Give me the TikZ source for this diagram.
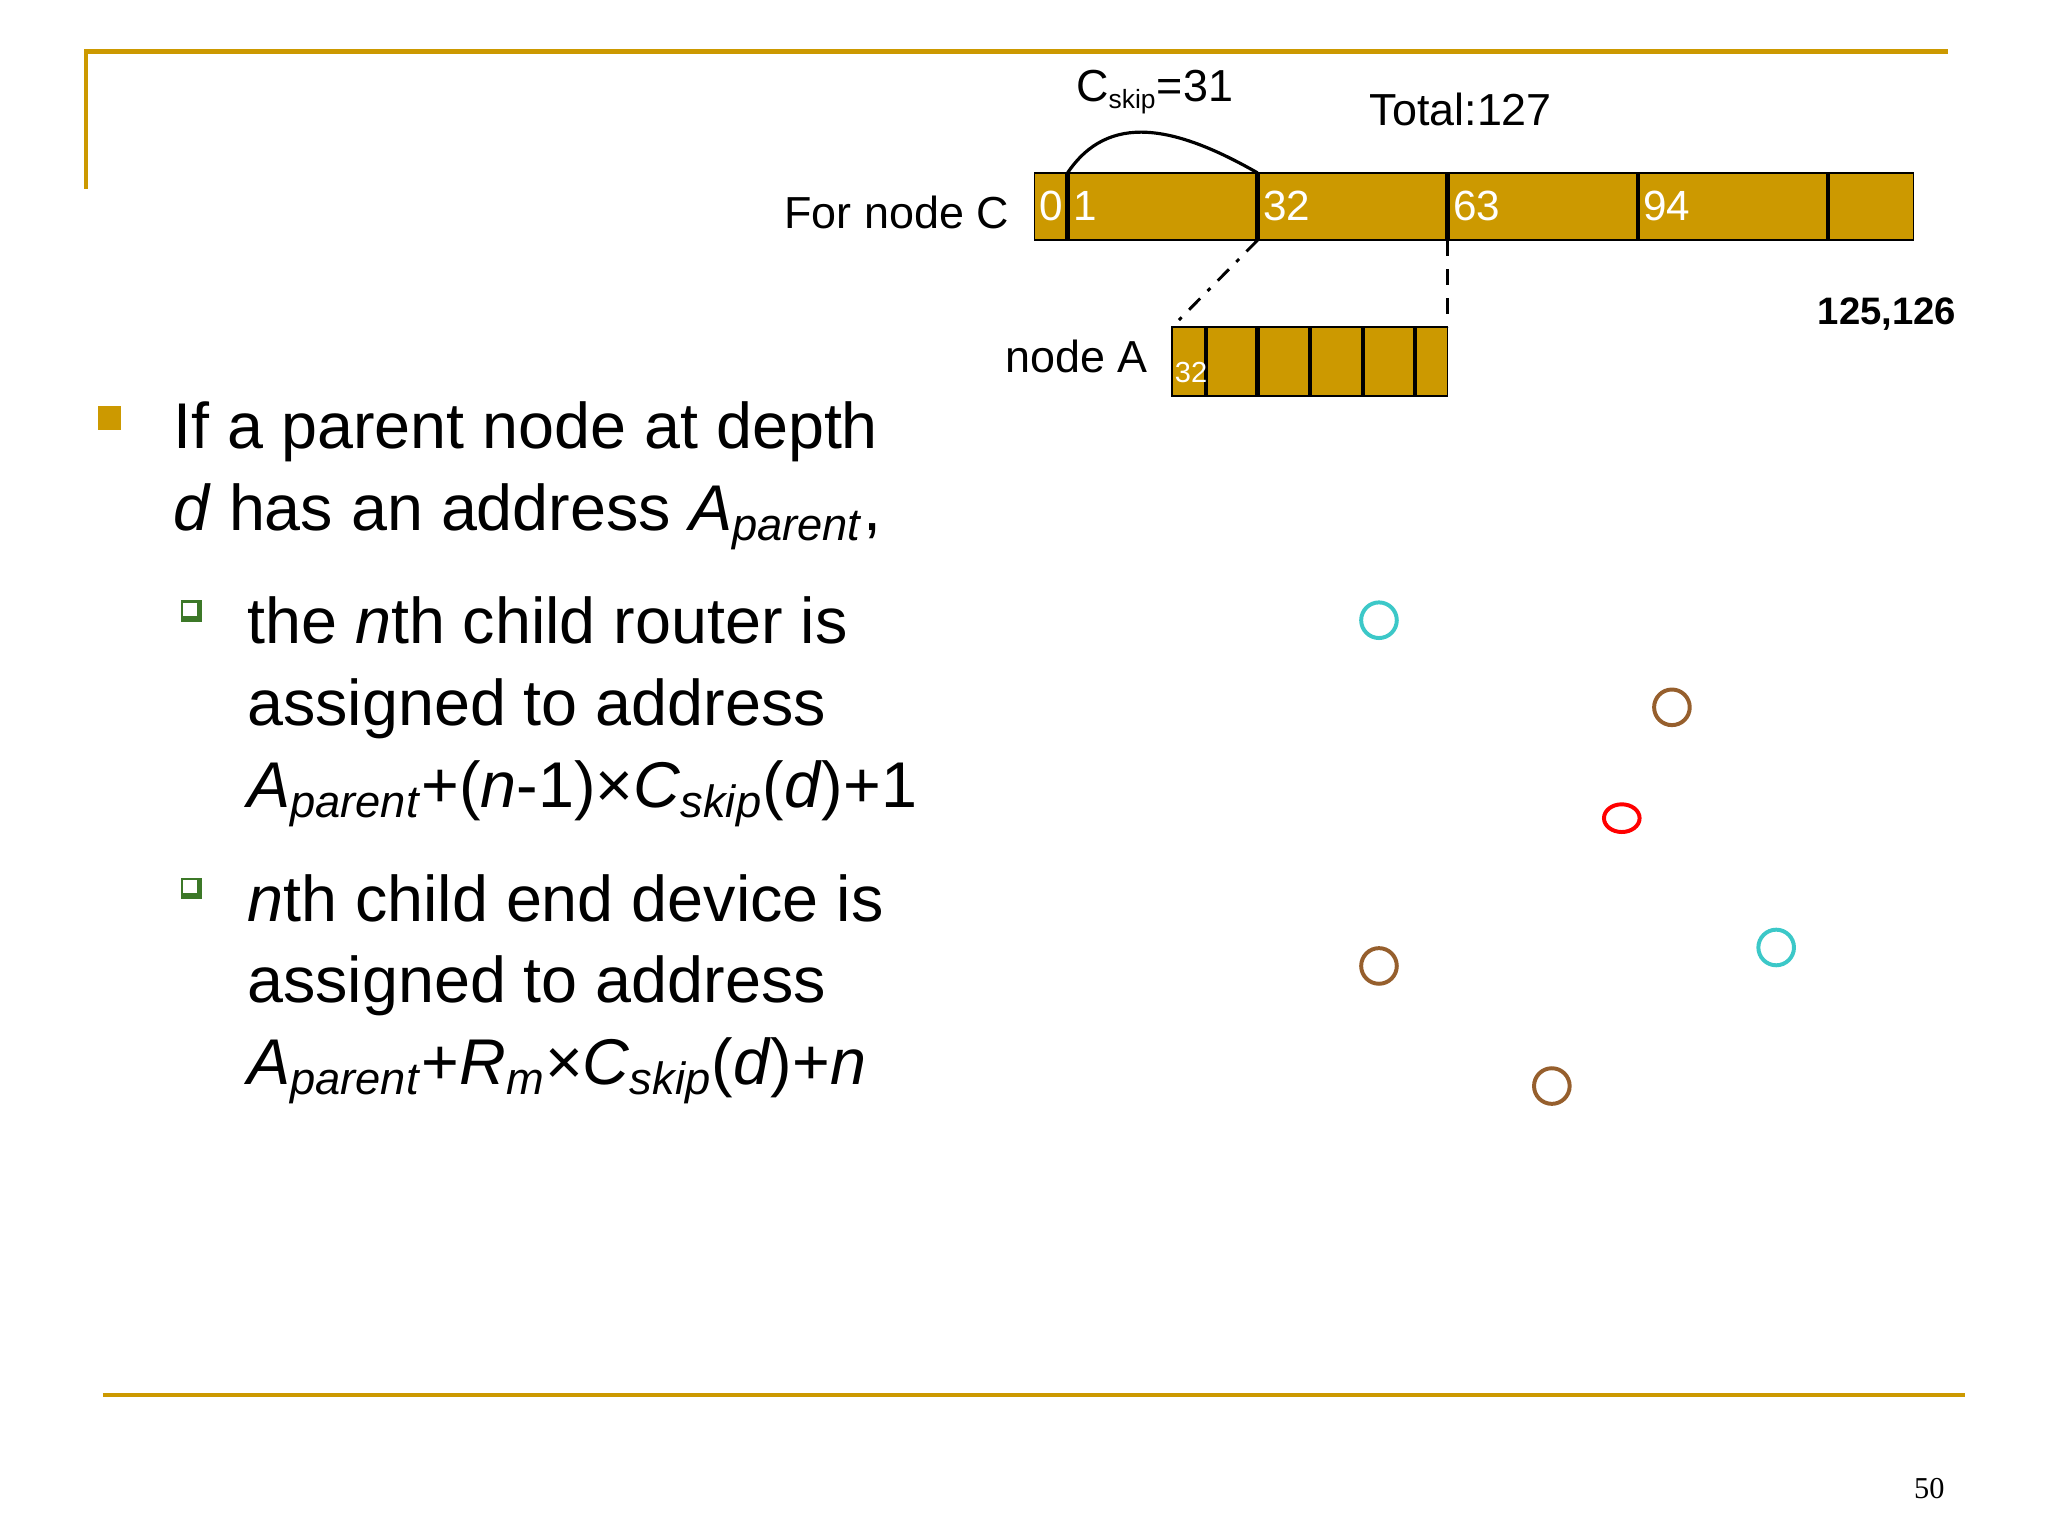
\documentclass[tikz,border=0pt]{standalone}
\usepackage{fontspec}
\setmainfont{Liberation Sans}
\newfontfamily\serifnum{Liberation Serif}
\definecolor{gold}{RGB}{204,153,0}
\definecolor{cyanc}{RGB}{60,200,200}
\definecolor{brownc}{RGB}{150,95,45}
\definecolor{bulletgreen}{RGB}{60,120,40}
\begin{document}
\begin{tikzpicture}[x=0.5pt,y=-0.5pt,
  goldline/.style={draw=gold,line width=1.6pt},
  barbox/.style={draw=black,fill=gold,line width=0.6pt},
  divider/.style={line width=1.6pt},
  white lbl/.style={text=white,font=\fontsize{16}{16}\selectfont,inner sep=0pt,anchor=west},
  lbl/.style={font=\fontsize{17}{17}\selectfont,inner sep=0pt},
  body/.style={font=\fontsize{24.5}{31}\selectfont,inner sep=0pt,anchor=base west},
  ring/.style={line width=1.5pt}]
\useasboundingbox (0,0) rectangle (1552,1164);
% frame lines
\draw[goldline] (65,143) -- (65,39) -- (1476,39);
\draw[goldline] (78,1057) -- (1489,1057);
\node[font=\serifnum\fontsize{11.5}{12}\selectfont] (pg) at (1462,1128) {50};
% main bar
\node[barbox,minimum width=333pt,minimum height=25.5pt,inner sep=0pt] (barC) at (1117,156.5) {};
\foreach \x/\n in {809/d1,953/d2,1097/d3,1241/d4,1385/d5}
  \draw[divider] (\x,131) -- (\x,182) coordinate[pos=1] (\n b) coordinate[pos=0] (\n t);
\node[white lbl] (l0) at (787,156) {0};
\node[white lbl] (l1) at (813,156) {1};
\node[white lbl] (l32) at (957,156) {32};
\node[white lbl] (l63) at (1101,156) {63};
\node[white lbl] (l94) at (1245,156) {94};
\draw[line width=1.2pt] (d1t) .. controls (840,85) and (890,95) .. (d2t);
\node[lbl] (cskip) at (875,70) {C\textsubscript{\fontsize{10}{10}\selectfont skip}=31};
\node[lbl] (total) at (1107,83) {Total:127};
\node[lbl,anchor=east] (fornc) at (765,161) {For node C};
% node A bar
\node[barbox,minimum width=104.5pt,minimum height=26pt,inner sep=0pt] (barA) at (992.5,274) {};
\foreach \x in {914,953,993,1033,1072}
  \draw[divider] (\x,248) -- (\x,300);
\node[white lbl,font=\fontsize{11}{11}\selectfont] (a32) at (890,282) {32};
\coordinate (Atl) at (888,248);
\coordinate (Atr) at (1097,248);
\draw[line width=1.1pt,dash pattern=on 6pt off 4pt on 1.5pt off 4pt] (d2b) -- (Atl);
\draw[line width=1.1pt,dash pattern=on 6pt off 5pt] (d3b) -- (Atr);
\node[lbl,anchor=east] (nodeA) at (870,270) {node A};
\node[font=\bfseries\fontsize{14.5}{15}\selectfont] (n125) at (1430,238) {125,126};
% circles
\draw[ring,cyanc] (1045,470) circle (13.5);
\draw[ring,brownc] (1267,536) circle (13.5);
\draw[ring,red] (1229,620) ellipse (13.5 and 10.5);
\draw[ring,brownc] (1045,732) circle (13.5);
\draw[ring,cyanc] (1346,718) circle (13.5);
\draw[ring,brownc] (1176,823) circle (13.5);
% bullets
\fill[gold] (74,308) rectangle (92,326);
\node[body] (t1) at (131,340) {If a parent node at depth};
\node[body] (t2) at (131,402) {\textit{d} has an address \textit{A}\textsubscript{\textit{parent}},};
\foreach \y in {463,673}{
  \fill[bulletgreen] (137,455) ++(0,\y-463) rectangle ++(16,16);
  \fill[white] (137,455) ++(2,\y-463+2) rectangle ++(10,10);}
\node[body] (s1) at (187,488) {the \textit{n}th child router is};
\node[body] (s2) at (187,550) {assigned to address};
\node[body] (s3) at (187,612) {\textit{A}\textsubscript{\textit{parent}}+(\textit{n}-1)×\textit{C}\textsubscript{\textit{skip}}(\textit{d})+1};
\node[body] (s4) at (187,698) {\textit{n}th child end device is};
\node[body] (s5) at (187,760) {assigned to address};
\node[body] (s6) at (187,822) {\textit{A}\textsubscript{\textit{parent}}+\textit{R}\textsubscript{\textit{m}}×\textit{C}\textsubscript{\textit{skip}}(\textit{d})+\textit{n}};
\end{tikzpicture}
\end{document}
